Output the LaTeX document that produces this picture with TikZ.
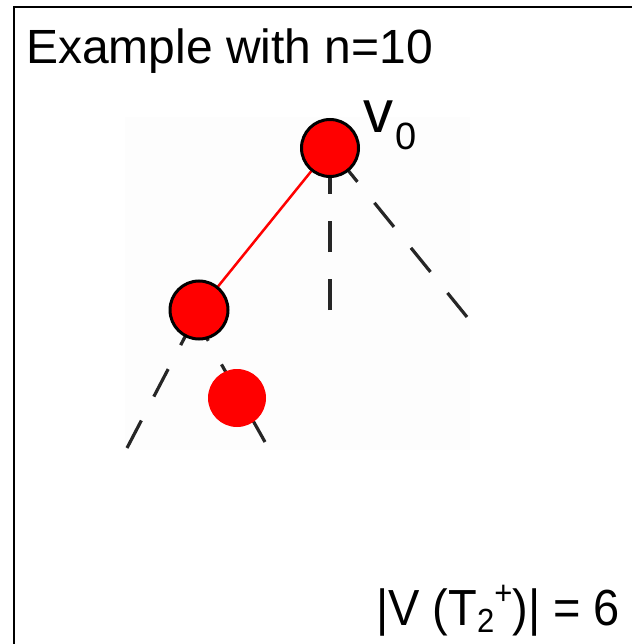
\documentclass[tikz,border=0pt]{standalone}
\usepackage{fontspec}
\setmainfont{Liberation Sans}
\begin{document}
\begin{tikzpicture}[x=1pt,y=-1pt,
  vnode/.style={circle,fill=red,draw=black,line width=3pt,inner sep=0pt},
  plainnode/.style={circle,fill=red,draw=none,inner sep=0pt},
  treeedge/.style={red,line width=2.5pt},
  missing/.style={black!85,line width=3.2pt,dash pattern=on 31pt off 27pt},
  frameline/.style={black,line width=2pt},
  lbl/.style={inner sep=0pt,font=\fontsize{48}{50}\selectfont}]
\useasboundingbox (0,0) rectangle (632,644);
\fill[black!0.7] (125,117) rectangle (470,450);
\draw[frameline] (14,644) -- (14,7) -- (632,7);
% positions
\coordinate (pr) at (330,148);
\coordinate (pl) at (199,310);
\coordinate (pt) at (237,398);
\coordinate (e1) at (330,310);
\coordinate (e2) at (467,317);
\coordinate (e3) at (127,448);
\coordinate (e4) at (265,442);
\coordinate (pl2) at (191,310);
% connectors (drawn from free end so the dashes start there)
\draw[missing] (e1) -- (pr);
\draw[missing] (e2) -- (pr);
\draw[missing] (e3) -- (pl);
\draw[missing] (e4) -- (pl2);
\draw[treeedge] (pr) -- (pl);
% nodes
\node[vnode,minimum size=57pt] (root) at (pr) {};
\node[vnode,minimum size=58pt] (left) at (pl) {};
\node[plainnode,minimum size=58pt] (third) at (pt) {};
% labels
\node[lbl,anchor=base west] (title) at (26,64) {Example with n=10};
\node[inner sep=0pt,anchor=base west,font=\fontsize{60}{60}\selectfont] (v0) at (363,133)
  {v\hspace{2pt}\raisebox{-17pt}{\fontsize{38}{38}\selectfont 0}};
\node[inner sep=0pt,anchor=base west,yscale=1.08,font=\fontsize{47}{49}\selectfont] (count) at (376,625)
  {|V (T\raisebox{-7pt}{\fontsize{31}{31}\selectfont 2}\raisebox{19pt}{\fontsize{31}{31}\selectfont +})| = 6};
\end{tikzpicture}
\end{document}
